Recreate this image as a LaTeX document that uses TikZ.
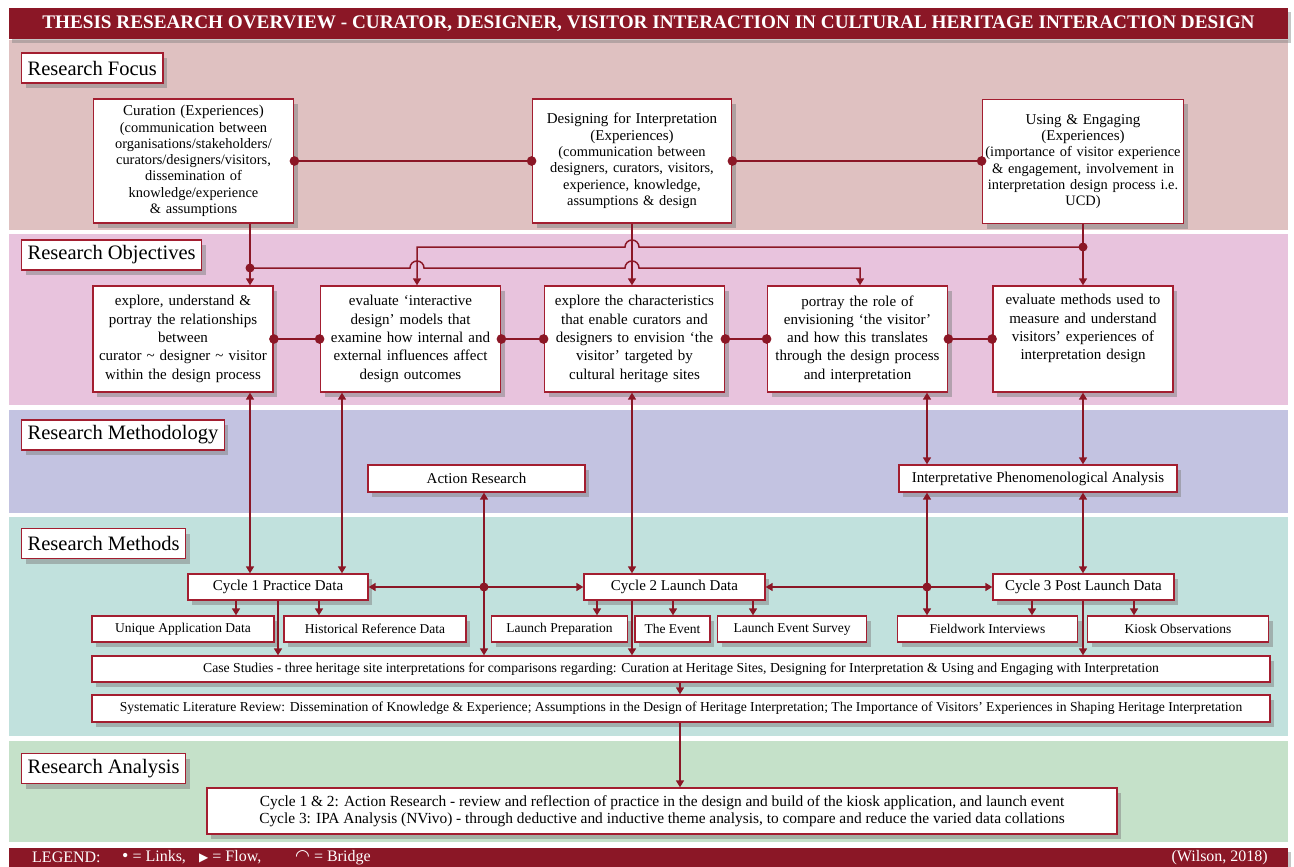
\documentclass[tikz,border=0pt]{standalone}
\usepackage{fontspec}
\setmainfont{Liberation Serif}
\newfontfamily\symfont{DejaVu Sans}
\usetikzlibrary{arrows.meta,shadows,calc}

\definecolor{darkred}{RGB}{139,23,38}
\definecolor{boxred}{RGB}{163,30,48}
\definecolor{focusbg}{RGB}{223,193,193}
\definecolor{objbg}{RGB}{232,195,221}
\definecolor{methodbg}{RGB}{195,195,225}
\definecolor{methodsbg}{RGB}{193,225,221}
\definecolor{analysisbg}{RGB}{197,225,201}

\begin{document}
\begin{tikzpicture}[
    x=1pt, y=1pt,
    box/.style = {draw=boxred, line width=1.3pt, fill=white, align=center, inner sep=2pt,
                  drop shadow={shadow xshift=4pt, shadow yshift=-5pt, opacity=0.5}},
    bar/.style = {fill=darkred, text=white, minimum width=1279pt, inner sep=0pt,
                  drop shadow={shadow xshift=3pt, shadow yshift=-4pt, opacity=0.45}},
    legitem/.style = {anchor=west, text=white, inner sep=0pt, font=\fontsize{16}{17}\selectfont},
    sect/.style = {box, anchor=west, minimum height=30pt, inner xsep=6pt, font=\fontsize{20.5}{22}\selectfont},
    focus/.style = {box, minimum height=124pt, font=\fontsize{14.4}{16.3}\selectfont},
    obj/.style = {box, text width=176pt, minimum height=106pt, font=\fontsize{15}{18.3}\selectfont},
    method/.style = {box, minimum height=27pt, font=\fontsize{15}{17}\selectfont},
    cycle/.style = {box, minimum height=26pt, font=\fontsize{15}{17}\selectfont},
    sub/.style = {box, minimum height=26pt, font=\fontsize{13.5}{15}\selectfont},
    wide/.style = {box, minimum width=1178pt, font=\fontsize{13.7}{15}\selectfont},
    wire/.style = {draw=darkred, line width=1.5pt},
    flow/.style = {wire, -{Triangle[length=7pt,width=8pt]}},
    biflow/.style = {wire, {Triangle[length=7pt,width=8pt]}-{Triangle[length=7pt,width=8pt]}},
    link/.style = {wire, {Circle[length=9.5pt]}-{Circle[length=9.5pt]}, shorten <=-4.5pt, shorten >=-4.5pt}
]
    \useasboundingbox (0,0) rectangle (1294,-867);

    \fill[focusbg] (9,-40) rectangle (1288,-230);
    \fill[objbg] (9,-234) rectangle (1288,-405);
    \fill[methodbg] (9,-410) rectangle (1288,-513);
    \fill[methodsbg] (9,-517) rectangle (1288,-736);
    \fill[analysisbg] (9,-741) rectangle (1288,-842);

    \node[bar, minimum height=31pt, font=\fontsize{19.2}{21}\bfseries] (title) at (648.5,-23.5)
        {THESIS RESEARCH OVERVIEW - CURATOR, DESIGNER, VISITOR INTERACTION IN CULTURAL HERITAGE INTERACTION DESIGN};
    \node[bar, minimum height=19pt] (legend) at (648.5,-857.5) {};
    \node[legitem] (legtext) at (32,-857.5) {LEGEND:};
    \node[legitem] (lglinks) at (122,-857.5) {{\fontsize{18}{17}\selectfont •} = Links,};
    \node[legitem] (lgflow) at (199,-857.5) {{\symfont\fontsize{12}{12}\selectfont ▶} = Flow,};
    \node[legitem] (lgbridge) at (295,-857.5) {{\symfont\fontsize{17}{12}\selectfont ◠} = Bridge};
    \node[legitem, anchor=east] (wilson) at (1268,-857.5) {(Wilson, 2018)};

    \node[sect] (lfocus) at (21,-68) {Research Focus};
    \node[sect] (lobj) at (21,-255) {Research Objectives};
    \node[sect] (lmethodology) at (21,-435) {Research Methodology};
    \node[sect] (lmethods) at (21,-543.5) {Research Methods};
    \node[sect] (lanalysis) at (21,-768.5) {Research Analysis};

    \node[focus, text width=196pt] (curation) at (193.5,-161)
        {{\fontsize{15}{17}\selectfont Curation (Experiences)}\\(communication between\\organisations/stakeholders/\\curators/designers/visitors,\\dissemination of\\knowledge/experience\\\& assumptions};
    \node[focus, text width=195pt] (design) at (632,-161)
        {{\fontsize{15}{17}\selectfont Designing for Interpretation\\(Experiences)}\\(communication between\\designers, curators, visitors,\\experience, knowledge,\\assumptions \& design};
    \node[focus, text width=197pt] (using) at (1083,-161.5)
        {{\fontsize{15}{17}\selectfont Using \& Engaging\\(Experiences)}\\(importance of visitor experience\\\& engagement, involvement in\\interpretation design process i.e.\\UCD)};

    \node[obj] (o1) at (183,-339) {explore, understand \&\\portray the relationships\\between\\curator \textasciitilde{} designer \textasciitilde{} visitor\\within the design process};
    \node[obj] (o2) at (410.5,-339) {evaluate ‘interactive\\design’ models that\\examine how internal and\\external influences affect\\design outcomes};
    \node[obj] (o3) at (634.5,-339) {explore the characteristics\\that enable curators and\\designers to envision ‘the\\visitor’ targeted by\\cultural heritage sites};
    \node[obj] (o4) at (857.5,-339) {portray the role of\\envisioning ‘the visitor’\\and how this translates\\through the design process\\and interpretation};
    \node[obj] (o5) at (1083,-339) {evaluate methods used to\\measure and understand\\visitors’ experiences of\\interpretation design\\\strut};

    \node[method, minimum width=217pt] (ar) at (476.5,-478.5) {Action Research};
    \node[method, minimum width=278pt] (ipa) at (1038,-478.5) {Interpretative Phenomenological Analysis};

    \node[cycle, minimum width=180pt] (c1) at (278,-587) {Cycle 1 Practice Data};
    \node[cycle, minimum width=181pt] (c2) at (674.5,-587) {Cycle 2 Launch Data};
    \node[cycle, minimum width=181pt] (c3) at (1083.5,-587) {Cycle 3 Post Launch Data};

    \node[sub, minimum width=182pt] (uad) at (183,-629) {Unique Application Data};
    \node[sub, minimum width=182pt] (hrd) at (375,-629) {Historical Reference Data};
    \node[sub, minimum width=136pt] (lp) at (559.5,-629) {Launch Preparation};
    \node[sub, minimum width=75pt] (ev) at (672.5,-629) {The Event};
    \node[sub, minimum width=149pt] (les) at (792,-629) {Launch Event Survey};
    \node[sub, minimum width=180pt] (fi) at (987.5,-629) {Fieldwork Interviews};
    \node[sub, minimum width=181pt] (ko) at (1178,-629) {Kiosk Observations};

    \node[wide, minimum height=26pt] (case) at (681,-669) {Case Studies - three heritage site interpretations for comparisons regarding: Curation at Heritage Sites, Designing for Interpretation \& Using and Engaging with Interpretation};
    \node[wide, minimum height=27pt, font=\fontsize{13.6}{15}\selectfont] (slr) at (681,-708.5) {Systematic Literature Review: Dissemination of Knowledge \& Experience; Assumptions in the Design of Heritage Interpretation; The Importance of Visitors’ Experiences in Shaping Heritage Interpretation};
    \node[box, minimum width=910pt, minimum height=46pt, font=\fontsize{15.4}{17.5}\selectfont] (analysis) at (662,-811)
        {Cycle 1 \& 2: Action Research - review and reflection of practice in the design and build of the kiosk application, and launch event\\
         Cycle 3: IPA Analysis (NVivo) - through deductive and inductive theme analysis, to compare and reduce the varied data collations};

    \foreach \n/\x in {xa/250, xb/342, xc/417, xd/632, xe/860, xf/927, xg/1083, xh/484, xs/680,
                       ka/236, kb/319, kc/597, kd/673, ke/753, kf/1032, kg/1134}
        \coordinate (\n) at (\x,0);
    \coordinate (dc) at (250,-268);
    \coordinate (du) at (1083,-247);
    \coordinate (dar) at (484,-587);
    \coordinate (dipa) at (927,-587);

    \draw[link] (curation.east) -- (curation.east -| design.west);
    \draw[link] (design.east |- curation.east) -- (curation.east -| using.west);
    \draw[link] (o1) -- (o2);
    \draw[link] (o2) -- (o3);
    \draw[link] (o3) -- (o4);
    \draw[link] (o4) -- (o5);

    \draw[flow] (curation.south -| xa) -- (o1.north -| xa);
    \draw[flow] (design.south -| xd) -- (o3.north -| xd);
    \draw[flow] (using.south -| xg) -- (o5.north -| xg);
    \draw[flow] (dc) -- ($(xc |- dc)+(-7,0)$) arc[start angle=180, end angle=0, radius=7]
        -- ($(xd |- dc)+(-7,0)$) arc[start angle=180, end angle=0, radius=7]
        -- (xe |- dc) -- (o4.north -| xe);
    \draw[flow] (du) -- ($(xd |- du)+(7,0)$) arc[start angle=0, end angle=180, radius=7]
        -- (xc |- du) -- (o2.north -| xc);

    \draw[biflow] (o1.south -| xa) -- (c1.north -| xa);
    \draw[biflow] (o2.south -| xb) -- (c1.north -| xb);
    \draw[biflow] (o3.south -| xd) -- (c2.north -| xd);
    \draw[biflow] (o4.south -| xf) -- (ipa.north -| xf);
    \draw[biflow] (o5.south -| xg) -- (ipa.north -| xg);
    \draw[biflow] (ipa.south -| xg) -- (c3.north -| xg);
    \draw[biflow] (ipa.south -| xf) -- (fi.north -| xf);
    \draw[biflow] (ar.south -| xh) -- (case.north -| xh);
    \draw[biflow] (c1) -- (c2);
    \draw[biflow] (c2) -- (c3);

    \draw[flow] (c1.south -| ka) -- (uad.north -| ka);
    \draw[flow] (c1.south -| kb) -- (hrd.north -| kb);
    \draw[flow] (c1.south) -- (case.north -| c1.south);
    \draw[flow] (c2.south -| kc) -- (lp.north -| kc);
    \draw[flow] (c2.south -| kd) -- (ev.north -| kd);
    \draw[flow] (c2.south -| ke) -- (les.north -| ke);
    \draw[flow] (c2.south -| xd) -- (case.north -| xd);
    \draw[flow] (c3.south -| kf) -- (fi.north -| kf);
    \draw[flow] (c3.south -| kg) -- (ko.north -| kg);
    \draw[flow] (c3.south -| xg) -- (case.north -| xg);
    \draw[flow] (case.south -| xs) -- (slr.north -| xs);
    \draw[flow] (slr.south -| xs) -- (analysis.north -| xs);

    \foreach \d in {dc, du, dar, dipa}
        \fill[darkred] (\d) circle (4.5pt);
\end{tikzpicture}
\end{document}
